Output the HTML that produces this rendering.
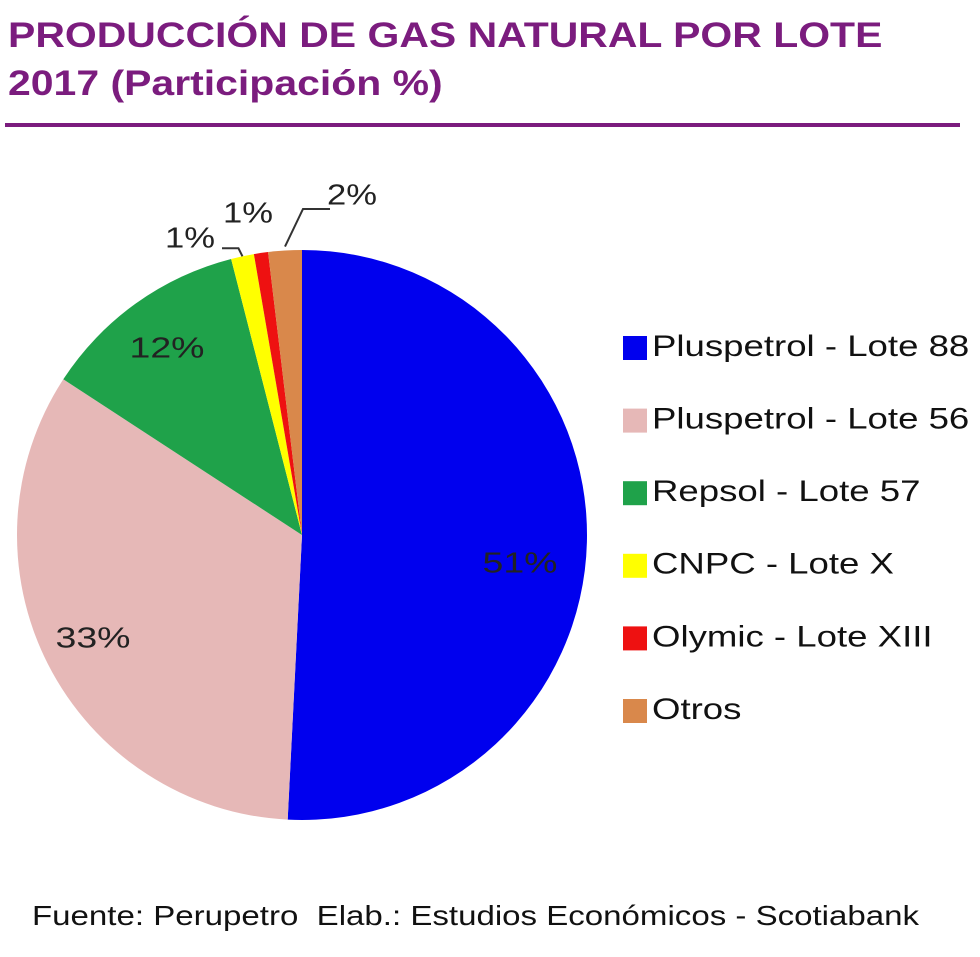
<!DOCTYPE html>
<html><head><meta charset="utf-8"><style>
body{margin:0;width:980px;height:957px;background:#fff;font-family:"Liberation Sans",sans-serif;position:relative;overflow:hidden}
#title{position:absolute;left:8px;top:12px;color:#7b1c7e;font-weight:bold;font-size:35px;line-height:48px;transform:scaleX(1.17);transform-origin:0 0;white-space:nowrap}
#rule{position:absolute;left:5px;top:123px;width:955px;height:4px;background:#7b1c7e}
#foot{position:absolute;left:32px;top:900px;font-size:28px;color:#111;transform:scaleX(1.18);transform-origin:0 0;white-space:nowrap}
svg{position:absolute;left:0;top:0}
</style></head><body>
<div id="title">PRODUCCIÓN DE GAS NATURAL POR LOTE<br>2017 (Participación %)</div>
<div id="rule"></div>
<svg id="chart" width="980" height="957"></svg>
<div id="foot">Fuente: Perupetro &nbsp;Elab.: Estudios Económicos - Scotiabank</div>
<script>
const categories=["Pluspetrol - Lote 88","Pluspetrol - Lote 56","Repsol - Lote 57","CNPC - Lote X","Olymic - Lote XIII","Otros"];
const values=[50.8,33.4,11.8,1.3,0.8,1.9];
const labels=["51%","33%","12%","1%","1%","2%"];
const colors=["#0000ee","#e6b8b7","#1fa24a","#ffff00","#ee1111","#d9884b"];
const NS="http://www.w3.org/2000/svg";
const svg=document.getElementById('chart');
const cx=302,cy=535,r=285;
const total=values.reduce((a,b)=>a+b,0);
function pt(frac,rad){const a=frac*2*Math.PI;return [cx+rad*Math.sin(a),cy-rad*Math.cos(a)];}
function mk(tag,attrs){const e=document.createElementNS(NS,tag);for(const k in attrs)e.setAttribute(k,attrs[k]);svg.appendChild(e);return e;}
let acc=0;
const labelPos=[[520,565],[93,640],[167,350],[190,240],[248,215],[352,197]];
values.forEach((v,i)=>{
  const s=acc/total,e=(acc+v)/total;acc+=v;
  const p0=pt(s,r),p1=pt(e,r);const large=(e-s)>0.5?1:0;
  const p=mk('path',{d:`M${cx},${cy}L${p0[0]},${p0[1]}A${r},${r} 0 ${large} 1 ${p1[0]},${p1[1]}Z`,fill:colors[i]});
  
  
  const mid=pt((s+e)/2,r);
  if(i==3||i==5){
    const lp=labelPos[i];
    let d;
    if(i==3)d=`M${mid[0]},${mid[1]}L${mid[0]-4},${mid[1]-8}L${lp[0]+32},${mid[1]-8}`;
    else d=`M${mid[0]},${mid[1]-4}L${mid[0]+18},${lp[1]+12}L${lp[0]-22},${lp[1]+12}`;
    const l=mk('path',{d:d,stroke:'#333','stroke-width':2,fill:'none'});
    
    
  }
  const t=mk('text',{x:labelPos[i][0],y:labelPos[i][1],'text-anchor':'middle','dominant-baseline':'middle','font-size':29,fill:'#222','font-family':'Liberation Sans, sans-serif',textLength:labels[i].length*25,lengthAdjust:'spacingAndGlyphs'});
  t.textContent=labels[i];
  
  
  const ly=348+i*72.6;
  const sq=mk('rect',{x:623,y:ly-12,width:24,height:24,fill:colors[i]});
  
  
  const lt=mk('text',{x:652,y:ly,'dominant-baseline':'middle','font-size':30,fill:'#111','font-family':'Liberation Sans, sans-serif'});
  lt.textContent=categories[i];
  
  
  lt.setAttribute('transform',`translate(652,0) scale(1.22,1) translate(-652,0)`);
});
</script>
</body></html>
